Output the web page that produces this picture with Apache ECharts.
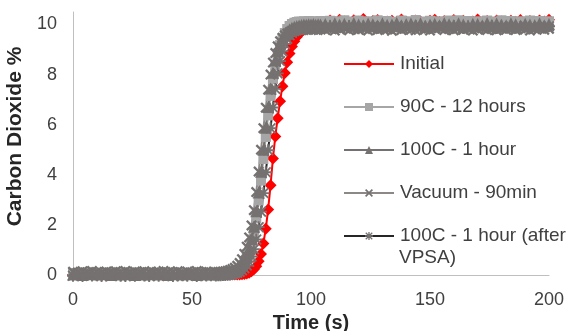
<!DOCTYPE html>
<html>
<head>
<meta charset="utf-8">
<script src="https://cdn.jsdelivr.net/npm/echarts@6/dist/echarts.min.js"></script>
<style>
  html, body { margin: 0; padding: 0; background: #fff; }
  #chart { width: 576px; height: 331px; }
</style>
</head>
<body>
<div id="chart"></div>
<script>
// time (s): every 2 s on the flats, every 1 s through the breakthrough
var times = [0,2,4,6,8,10,12,14,16,18,20,22,24,26,28,30,32,34,36,38,40,42,44,46,48,50,52,54,56,58,
  60,61,62,63,64,65,66,67,68,69,70,71,72,73,74,75,76,77,78,79,80,81,82,83,84,85,86,87,88,89,90,91,92,93,94,95,96,97,98,99,100,101,102,103,104,
  106,108,110,112,114,116,118,120,122,124,126,128,130,132,134,136,138,140,142,144,146,148,150,152,154,156,158,160,162,164,166,168,170,172,174,176,178,180,182,184,186,188,190,192,194,196,198,200];

var initial = [0.01,0.03,-0.02,0.02,0.0,0.03,0.01,-0.02,0.02,0.01,0.03,0.0,0.02,-0.02,0.01,0.03,0.0,0.02,0.01,-0.02,0.03,0.01,0.0,0.02,0.01,0.03,-0.02,0.02,0.0,0.01,
  0.02,0.02,0.02,0.02,0.02,0.02,0.02,0.02,0.02,0.02,0.02,0.03,0.04,0.06,0.09,0.15,0.23,0.35,0.55,0.84,1.26,1.85,2.62,3.58,4.65,5.53,6.26,6.94,7.54,8.06,8.49,8.84,9.12,9.33,9.5,9.62,9.72,9.79,9.85,9.89,9.93,9.96,9.99,10.02,10.05,
  10.08,10.16,10.1,10.19,10.12,10.06,10.17,10.11,10.22,10.08,10.14,10.18,10.07,10.12,10.15,10.1,10.2,10.11,10.06,10.16,10.12,10.08,10.15,10.19,10.1,10.14,10.07,10.18,10.11,10.15,10.08,10.12,10.2,10.1,10.14,10.06,10.16,10.12,10.08,10.15,10.11,10.18,10.07,10.14,10.1,10.16,10.12,10.19];

var c90_12h = [0.08,0.06,0.1,0.07,0.05,0.09,0.07,0.1,0.06,0.08,0.07,0.05,0.1,0.07,0.09,0.06,0.1,0.07,0.05,0.08,0.07,0.1,0.06,0.09,0.07,0.05,0.08,0.1,0.06,0.07,
  0.07,0.07,0.08,0.08,0.09,0.1,0.11,0.13,0.16,0.2,0.27,0.37,0.5,0.69,0.94,1.28,1.72,2.28,2.97,3.77,4.63,5.51,6.37,7.15,7.82,8.38,8.83,9.18,9.45,9.66,9.82,9.94,10.02,10.07,10.1,10.12,10.11,10.13,10.1,10.14,10.11,10.13,10.1,10.12,10.14,
  10.1,10.15,10.07,10.13,10.17,10.09,10.12,10.16,10.06,10.13,10.1,10.17,10.08,10.14,10.11,10.07,10.16,10.1,10.13,10.18,10.08,10.12,10.15,10.07,10.13,10.1,10.16,10.08,10.17,10.11,10.14,10.07,10.13,10.1,10.16,10.08,10.12,10.17,10.1,10.14,10.07,10.13,10.11,10.16,10.08,10.14,10.1,10.13];

var c100_1h = [0.02,0.04,0.0,0.03,0.05,0.02,0.04,0.03,0.0,0.04,0.02,0.05,0.03,0.0,0.04,0.02,0.03,0.05,0.02,0.04,0.0,0.03,0.04,0.02,0.05,0.03,0.0,0.04,0.02,0.03,
  0.03,0.03,0.04,0.05,0.06,0.07,0.09,0.12,0.16,0.21,0.29,0.4,0.55,0.76,1.05,1.44,1.93,2.55,3.29,4.12,5.0,5.88,6.71,7.45,8.07,8.56,8.95,9.24,9.46,9.61,9.73,9.81,9.87,9.91,9.94,9.96,9.98,10.0,9.99,10.01,10.0,10.02,9.99,10.01,10.0,
  10.02,9.97,10.05,9.99,10.03,9.96,10.06,10.0,9.97,10.04,10.01,9.96,10.05,9.99,10.0,10.06,9.97,10.02,10.04,9.99,10.05,9.96,10.0,10.03,9.97,10.06,10.01,9.98,10.05,10.0,9.96,10.03,10.02,9.97,10.06,9.99,10.04,10.0,9.97,10.05,10.01,9.96,10.03,10.0,9.98,10.05,9.97,10.02];

var vacuum90 = [0.13,0.1,0.15,0.11,0.16,0.12,0.1,0.14,0.11,0.15,0.12,0.16,0.1,0.14,0.11,0.15,0.12,0.1,0.14,0.16,0.11,0.12,0.15,0.1,0.14,0.11,0.16,0.12,0.14,0.11,
  0.12,0.12,0.13,0.14,0.15,0.17,0.2,0.24,0.29,0.37,0.48,0.63,0.84,1.13,1.5,1.98,2.59,3.31,4.13,5.0,5.86,6.68,7.4,8.0,8.48,8.86,9.13,9.33,9.47,9.57,9.64,9.69,9.72,9.75,9.77,9.79,9.78,9.8,9.79,9.81,9.78,9.8,9.79,9.82,9.8,
  9.78,9.84,9.76,9.81,9.86,9.77,9.83,9.79,9.85,9.76,9.82,9.78,9.84,9.8,9.75,9.83,9.78,9.85,9.79,9.77,9.84,9.8,9.76,9.83,9.86,9.78,9.82,9.77,9.84,9.79,9.83,9.76,9.8,9.85,9.78,9.82,9.77,9.84,9.79,9.83,9.78,9.85,9.8,9.76,9.82,9.84,9.79,9.83];

var afterVpsa = [-0.03,-0.01,-0.04,0.0,-0.02,-0.01,-0.04,-0.02,0.0,-0.01,-0.03,-0.04,-0.01,-0.03,0.0,-0.02,-0.04,-0.01,-0.03,0.0,-0.01,-0.04,-0.02,-0.01,-0.03,0.0,-0.04,-0.01,-0.02,-0.01,
  -0.02,-0.01,-0.01,0.0,0.0,0.01,0.02,0.04,0.06,0.09,0.13,0.19,0.27,0.38,0.53,0.74,1.03,1.42,1.91,2.53,3.27,4.1,4.98,5.86,6.69,7.43,8.05,8.54,8.93,9.22,9.43,9.57,9.67,9.74,9.79,9.82,9.84,9.86,9.87,9.88,9.89,9.87,9.9,9.88,9.89,
  9.89,9.93,9.86,9.92,9.88,9.94,9.89,9.85,9.92,9.9,9.94,9.87,9.92,9.86,9.9,9.93,9.89,9.85,9.92,9.94,9.88,9.9,9.86,9.93,9.89,9.92,9.87,9.94,9.9,9.86,9.92,9.89,9.93,9.87,9.9,9.94,9.86,9.92,9.89,9.93,9.87,9.9,9.94,9.89,9.86,9.92,9.9,9.93];

var xTicks = [0, 50, 100, 150, 200];
var yTicks = [0, 2, 4, 6, 8, 10];

var FONT = "'Liberation Sans', Arial, sans-serif";
var xMark = 'path://M1.5,0 L5,3.5 L8.5,0 L10,1.5 L6.5,5 L10,8.5 L8.5,10 L5,6.5 L1.5,10 L0,8.5 L3.5,5 L0,1.5 Z';
var starMark = 'path://M4.2,0 H5.8 V4.2 H10 V5.8 H5.8 V10 H4.2 V5.8 H0 V4.2 H4.2 Z M1.5,0.4 L5,3.9 L8.5,0.4 L9.6,1.5 L6.1,5 L9.6,8.5 L8.5,9.6 L5,6.1 L1.5,9.6 L0.4,8.5 L3.9,5 L0.4,1.5 Z';

function pairs(vals) {
  return times.map(function (t, i) { return [t, vals[i]]; });
}

function mkSeries(name, vals, lineColor, symColor, symbol, size) {
  return {
    name: name,
    type: 'line',
    data: pairs(vals),
    symbol: symbol,
    symbolSize: size,
    showAllSymbol: true,
    clip: false,
    lineStyle: { color: lineColor, width: 2 },
    itemStyle: { color: symColor, borderWidth: 0 }
  };
}

var chart = echarts.init(document.getElementById('chart'));
chart.setOption({
  animation: false,
  grid: { left: 73, right: 27, top: 12, bottom: 56, containLabel: false, outerBoundsMode: 'none' },
  legend: {
    orient: 'vertical',
    left: 343,
    top: 54,
    padding: 0,
    itemWidth: 50,
    itemHeight: 10,
    itemGap: 23,
    data: ['Initial', '90C - 12 hours', '100C - 1 hour', 'Vacuum - 90min', '100C - 1 hour (after VPSA)'],
    formatter: function (n) { return n === '100C - 1 hour (after VPSA)' ? '100C - 1 hour (after' : n; },
    textStyle: { fontFamily: FONT, fontSize: 19, color: '#404040', lineHeight: 20, padding: [0, 0, 0, 1] }
  },
  graphic: [{
    type: 'text', left: 399, top: 248,
    style: { text: 'VPSA)', font: "19px 'Liberation Sans', Arial, sans-serif", fill: '#404040' }
  }],
  xAxis: {
    type: 'value', min: 0, max: 200, interval: 50,
    name: 'Time (s)', nameLocation: 'middle', nameGap: 33,
    nameTextStyle: { fontFamily: FONT, fontSize: 20, fontWeight: 'bold', color: '#262626' },
    axisLine: { show: true, lineStyle: { color: '#bfbfbf', width: 1 } },
    axisTick: { show: false },
    splitLine: { show: false },
    axisLabel: {
      margin: 16, fontFamily: FONT, fontSize: 18, color: '#404040',
      formatter: function (v) { return xTicks.indexOf(v) >= 0 ? String(v) : ''; }
    }
  },
  yAxis: {
    type: 'value', min: 0, max: 10.5, interval: 2,
    name: 'Carbon Dioxide %', nameLocation: 'middle', nameGap: 41,
    nameTextStyle: { fontFamily: FONT, fontSize: 21, fontWeight: 'bold', color: '#262626', padding: [0, 0, 0, 14] },
    axisLine: { show: true, lineStyle: { color: '#bfbfbf', width: 1 } },
    axisTick: { show: false },
    splitLine: { show: false },
    axisLabel: {
      margin: 16, fontFamily: FONT, fontSize: 18, color: '#404040',
      formatter: function (v) { return yTicks.indexOf(v) >= 0 ? String(v) : ''; }
    }
  },
  series: [
    mkSeries('Initial', initial, '#ff0000', '#ff0000', 'diamond', 12),
    mkSeries('90C - 12 hours', c90_12h, '#a6a6a6', '#a6a6a6', 'rect', 10),
    mkSeries('100C - 1 hour', c100_1h, '#767171', '#767171', 'triangle', 12),
    mkSeries('Vacuum - 90min', vacuum90, '#8c8888', '#767171', xMark, 11),
    mkSeries('100C - 1 hour (after VPSA)', afterVpsa, '#262626', '#767171', starMark, 12)
  ]
});
</script>
</body>
</html>
